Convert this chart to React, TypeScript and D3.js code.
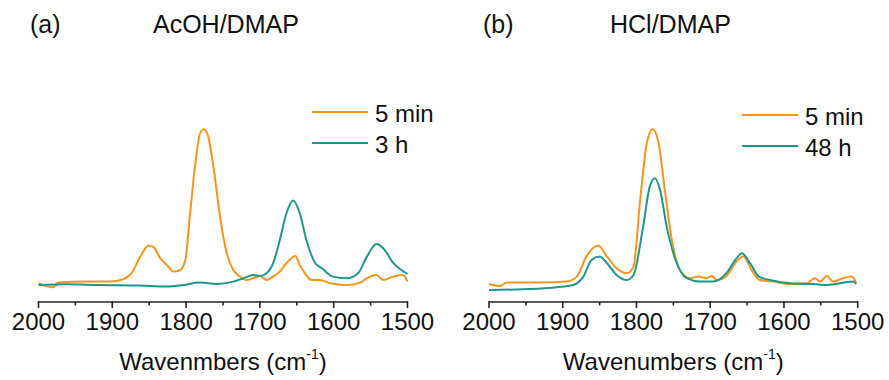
import React from "react";
import * as d3 from "d3";

// ---- Data (wavenumber cm^-1, intensity a.u.) ----
const aOrangeWn = [2000,1980,1973,1939,1903,1885,1874,1862,1851,1844,1835,1826,1817,1808,1801,1795,1788,1781,1776,1770,1763,1754,1745,1736,1727,1718,1709,1700,1691,1682,1673,1664,1652,1646,1639,1630,1619,1605,1582,1564,1555,1542,1533,1519,1506,1500];
const aOrangeVal = [9.4,7.4,9.7,10.2,10.2,11.4,14.4,22.7,28.2,27.4,21.9,18.5,15.2,16,21,42.7,67.7,84.4,86.4,82.7,67.7,42.7,24.4,16,12.7,11,11.9,13,11,12.7,15.2,19.4,23,18.5,14.4,11,11,9.4,8.5,9.7,11.9,13.5,11,12.7,13.5,10.2];

const aTealWn = [2000,1962,1917,1862,1826,1804,1781,1759,1736,1722,1709,1700,1691,1682,1673,1664,1655,1646,1637,1625,1616,1601,1582,1567,1555,1542,1533,1519,1500];
const aTealVal = [8.5,8.9,8.5,8.2,7.7,8.5,9.7,9,10.2,11.9,13.5,13,14.4,19.4,31,44.4,50.7,44.4,31,19.4,16.9,12.7,11.9,14.4,22.7,29,26.9,19.4,14];

const bOrangeWn = [2000,1985,1976,1931,1895,1881,1868,1852,1840,1827,1813,1804,1795,1786,1778,1770,1761,1752,1741,1727,1716,1705,1698,1691,1678,1666,1655,1644,1633,1614,1592,1569,1558,1551,1542,1533,1520,1508,1502];
const bOrangeVal = [9,8,9.7,9.7,10.2,12.7,22.7,28.2,22.7,16.9,14.4,17.7,51,79.4,86.5,79.4,54.4,31,16,11.9,12.7,11.9,13,11,13,19.4,22.7,16,11,10.2,9,9.4,11.9,10.2,13,10.2,11.9,12.7,9.4];

const bTealWn = [2000,1953,1908,1886,1872,1861,1850,1840,1827,1813,1804,1791,1782,1775,1768,1759,1747,1732,1714,1696,1678,1666,1657,1646,1634,1619,1592,1560,1542,1506,1502];
const bTealVal = [6,6.4,7.4,8.5,12.7,21,22.7,19.4,13.5,11,13.5,37.7,57.7,61.9,56,37.7,21,11.9,10.2,10.2,14.4,21,24.4,19.4,12.7,11,9.4,9,8.5,10.2,9];

const xTicks = [2000, 1900, 1800, 1700, 1600, 1500];
const xMinorTicks = [1950, 1850, 1750, 1650, 1550];

const ORANGE = "#F7941D";
const TEAL = "#1E978A";
const FONT = "'Liberation Sans', Arial, sans-serif";

type Series = { wn: number[]; val: number[]; color: string; label: string };

function Panel(props: {
  x0: number; x1: number; tag: string; tagX: number; title: string; titleX: number;
  axisTitle: string; series: Series[]; legendX: number; legendY: number;
}) {
  const { x0, x1, series } = props;
  const xs = d3.scaleLinear().domain([2000, 1500]).range([x0, x1]);
  const ys = d3.scaleLinear().domain([0, 100]).range([302, 102]);
  const axisY = 302;
  const line = d3.line<[number, number]>()
    .x(d => xs(d[0]))
    .y(d => ys(d[1]))
    .curve(d3.curveMonotoneX);
  const cx = (x0 + x1) / 2;
  return (
    <g>
      <text x={props.tagX} y={33} fontSize={25} fontFamily={FONT} fill="#111">{props.tag}</text>
      <text x={props.titleX} y={33} fontSize={25} fontFamily={FONT} fill="#111">{props.title}</text>
      {series.map((s, i) => (
        <path key={i}
          d={line(s.wn.map((w, j) => [w, s.val[j]] as [number, number])) || ""}
          fill="none" stroke={s.color} strokeWidth={2} strokeLinejoin="round" />
      ))}
      {series.map((s, i) => (
        <g key={"l" + i}>
          <line x1={props.legendX} x2={props.legendX + 56}
            y1={props.legendY + i * 31} y2={props.legendY + i * 31}
            stroke={s.color} strokeWidth={2} />
          <text x={props.legendX + 63} y={props.legendY + i * 31 + 9.5}
            fontSize={24} fontFamily={FONT} fill="#111">{s.label}</text>
        </g>
      ))}
      <line x1={xs(2000)} x2={xs(1500)} y1={axisY} y2={axisY} stroke="#222" strokeWidth={1.6} />
      {xTicks.map(t => (
        <g key={t}>
          <line x1={xs(t)} x2={xs(t)} y1={axisY - 1} y2={axisY + 6} stroke="#222" strokeWidth={1.6} />
          <text x={xs(t)} y={330} fontSize={24} fontFamily={FONT} textAnchor="middle" fill="#111">{t}</text>
        </g>
      ))}
      {xMinorTicks.map(t => (
        <line key={t} x1={xs(t)} x2={xs(t)} y1={axisY} y2={axisY + 3.5} stroke="#222" strokeWidth={1.6} />
      ))}
      <text x={cx} y={370} fontSize={24} fontFamily={FONT} textAnchor="middle" fill="#111">
        {props.axisTitle} (cm<tspan fontSize={14} dy={-11}>-1</tspan><tspan dy={11}>)</tspan>
      </text>
    </g>
  );
}

export default function App() {
  return (
    <svg width={889} height={380} style={{ position: "absolute", left: 0, top: 0, background: "#fff" }}>
      <rect width={889} height={380} fill="#fff" />
      <Panel x0={38.5} x1={407.5} tag="(a)" tagX={30} title="AcOH/DMAP" titleX={153}
        axisTitle="Wavenmbers"
        series={[
          { wn: aOrangeWn, val: aOrangeVal, color: ORANGE, label: "5 min" },
          { wn: aTealWn, val: aTealVal, color: TEAL, label: "3 h" },
        ]}
        legendX={312} legendY={112} />
      <Panel x0={489} x1={857.7} tag="(b)" tagX={483} title="HCl/DMAP" titleX={610}
        axisTitle="Wavenumbers"
        series={[
          { wn: bOrangeWn, val: bOrangeVal, color: ORANGE, label: "5 min" },
          { wn: bTealWn, val: bTealVal, color: TEAL, label: "48 h" },
        ]}
        legendX={742} legendY={115} />
    </svg>
  );
}
